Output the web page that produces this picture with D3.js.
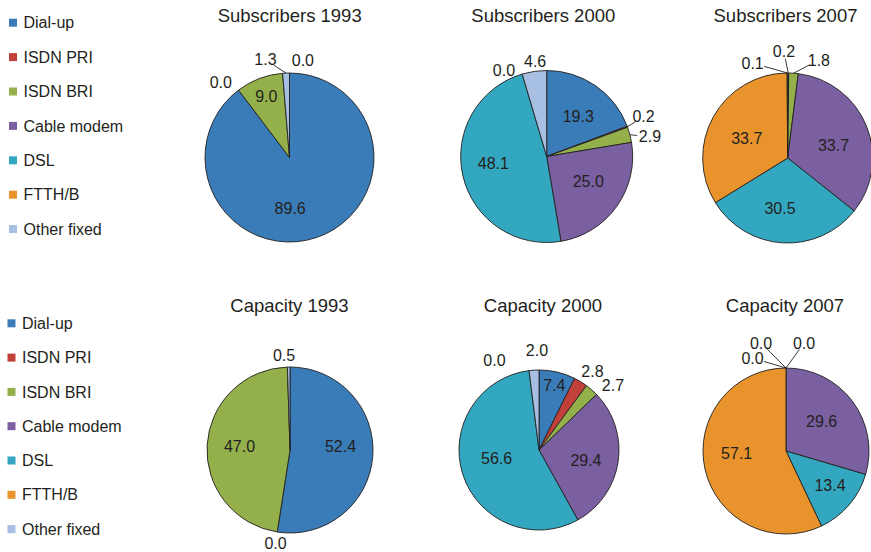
<!DOCTYPE html>
<html><head><meta charset="utf-8">
<script src="https://cdn.jsdelivr.net/npm/d3@7"></script>
<style>
body{margin:0;background:#fff;}
text{font-family:"Liberation Sans",Arial,Helvetica,sans-serif;fill:#231f20;}
</style></head>
<body><svg id="c" width="871" height="552"></svg>
<script>
// ---- data ----
const categories = ["Dial-up","ISDN PRI","ISDN BRI","Cable modem","DSL","FTTH/B","Other fixed"];
const colors = ["#3a7cb7","#c1403a","#94b04a","#7a60a0","#33a7bf","#e8932c","#a6bfe2"];
const titles = ["Subscribers 1993","Subscribers 2000","Subscribers 2007","Capacity 1993","Capacity 2000","Capacity 2007"];
const sub1993 = [89.6, 0.0, 9.0, null, null, 0.0, 1.3];
const sub2000 = [19.3, 0.2, 2.9, 25.0, 48.1, 0.0, 4.6];
const sub2007 = [0.2, null, 1.8, 33.7, 30.5, 33.7, 0.1];
const cap1993 = [52.4, 0.0, 47.0, null, null, null, 0.5];
const cap2000 = [7.4, 2.8, 2.7, 29.4, 56.6, 0.0, 2.0];
const cap2007 = [0.0, 0.0, 0.0, 29.6, 13.4, 57.1, null];
const series = [sub1993, sub2000, sub2007, cap1993, cap2000, cap2007];

// ---- layout / style ----
const pieLayout = [
  {cx:289.5, cy:157.5, r:84.5, ty:22},
  {cx:546.7, cy:156.5, r:86,   ty:22},
  {cx:787.7, cy:158,   r:85,   ty:22},
  {cx:290,   cy:450,   r:83,   ty:312},
  {cx:539,   cy:450,   r:80,   ty:312},
  {cx:786,   cy:451,   r:83,   ty:312}
];
const titleX = [289.7, 543.3, 785.5, 289.5, 543, 785];
// label placement: angle shift (deg) from slice middle, radius factor, leader line
const labelStyle = [
  [{da:17.8,rk:0.6},{da:-5.5,rk:1.2},{da:0,rk:0.77},null,null,{da:12.5,rk:1.165},{da:-11.5,rk:1.19,leader:true}],
  [{da:3.7,rk:0.59},{da:-2.1,rk:1.217,leader:true},{da:3.8,rk:1.223,leader:true},{da:-4.3,rk:0.565},{da:5.7,rk:0.626},{da:-9.8,rk:1.12},{da:1.3,rk:1.11}],
  [{da:-2.4,rk:1.25,leader:true},null,{da:13.7,rk:1.21,leader:true},{da:6.2,rk:0.56},{da:5.3,rk:0.6},{da:-3.3,rk:0.535},{da:-20.1,rk:1.19,leader:true}],
  [{da:-8.1,rk:0.61},{da:0,rk:1.135},{da:0.2,rk:0.61},null,null,null,{da:-2.7,rk:1.147}],
  [{da:0,rk:0.835},{da:2.9,rk:1.185},{da:7.5,rk:1.23},{da:3.5,rk:0.6},{da:7,rk:0.54},{da:-19.2,rk:1.255},{da:2.4,rk:1.25}],
  [{da:9.5,rk:1.32,leader:true},{da:-13,rk:1.336,leader:true},{da:-19.8,rk:1.19,leader:true},{da:-2.6,rk:0.556},{da:-2.8,rk:0.67},{da:10,rk:0.595},null]
];
const legendLayout = [{x:9, y:22.7, step:34.4},{x:7.5, y:323.3, step:34.3}];

const svg = d3.select("#c");
const rad = Math.PI/180;
const pol = (cx,cy,a,d)=>[cx + d*Math.sin(a), cy - d*Math.cos(a)];

series.forEach((vals, k) => {
  const L = pieLayout[k];
  const g = svg.append("g");
  g.append("text").attr("x", titleX[k]).attr("y", L.ty).attr("text-anchor","middle")
    .style("font-size","18.5px").text(titles[k]);
  const data = vals.map((v,i)=>({v, i}));
  const pie = d3.pie().sort(null).value(d => d.v == null ? 0 : d.v);
  const arcs = pie(data);
  const arc = d3.arc().innerRadius(0).outerRadius(L.r);
  const pg = g.append("g").attr("transform", `translate(${L.cx},${L.cy})`);
  pg.selectAll("path").data(arcs.filter(a => a.data.v > 0)).join("path")
    .attr("d", arc).attr("fill", a => colors[a.data.i])
    .attr("stroke", "#231f20").attr("stroke-width", 0.9).attr("stroke-linejoin","round");
  arcs.forEach(a => {
    const st = labelStyle[k][a.data.i];
    if (a.data.v == null || !st) return;
    const mid = (a.startAngle + a.endAngle)/2;
    const ang = mid + st.da*rad;
    const [tx, ty] = pol(L.cx, L.cy, ang, st.rk*L.r);
    g.append("text").attr("x", tx).attr("y", ty).attr("text-anchor","middle")
      .attr("dy","0.35em").style("font-size","16px").text(d3.format(".1f")(a.data.v));
    if (st.leader) {
      const [ex, ey] = pol(L.cx, L.cy, mid, L.r);
      let vx = ex - tx, vy = ey - ty; const len = Math.hypot(vx, vy); vx/=len; vy/=len;
      const gap = 1/Math.sqrt((vx/13)**2 + (vy/7)**2);
      g.append("line").attr("x1", ex).attr("y1", ey).attr("x2", tx + vx*gap).attr("y2", ty + vy*gap)
        .attr("stroke","#231f20").attr("stroke-width",0.9);
    }
  });
});

legendLayout.forEach(LL => {
  const lg = svg.append("g");
  categories.forEach((c, i) => {
    const y = LL.y + i*LL.step;
    lg.append("rect").attr("x", LL.x).attr("y", y-4).attr("width", 8).attr("height", 8).attr("fill", colors[i]);
    lg.append("text").attr("x", LL.x + 14.5).attr("y", y).attr("dy","0.35em").style("font-size","16px").text(c);
  });
});
</script></body></html>
